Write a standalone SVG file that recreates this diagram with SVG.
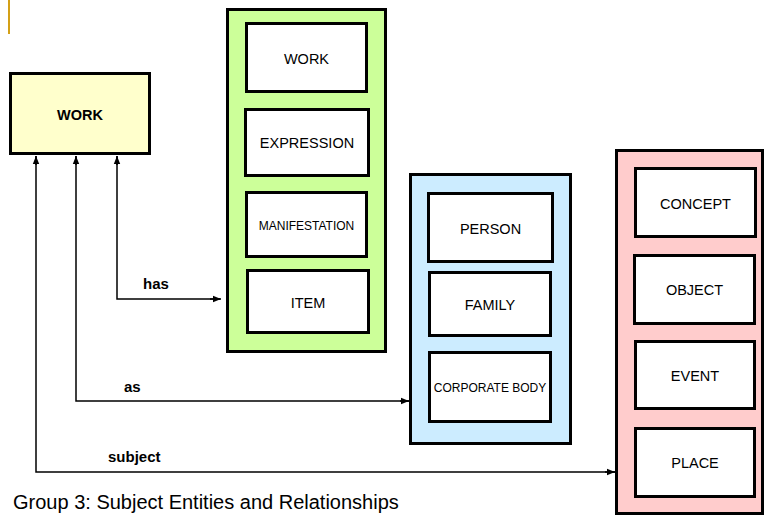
<svg xmlns="http://www.w3.org/2000/svg" width="764" height="515" viewBox="0 0 764 515">
<defs>
<marker id="ah" viewBox="0 0 10 10" refX="10" refY="5" markerWidth="8" markerHeight="8" markerUnits="userSpaceOnUse" orient="auto">
<path d="M0,1 L10,5 L0,9 z" fill="#000"/>
</marker>
<style>
.box{fill:#fff;stroke:#000;stroke-width:3}
.cont{stroke:#000;stroke-width:3}
.lbl{font-family:"Liberation Sans",Arial,sans-serif;font-size:14.5px;text-anchor:middle;fill:#000}
.sm{font-size:12px}
.rel{font-family:"Liberation Sans",Arial,sans-serif;font-size:15px;font-weight:bold;fill:#000}
.conn{fill:none;stroke:#000;stroke-width:1.5;marker-end:url(#ah)}
</style>
</defs>
<rect width="764" height="515" fill="#fff"/>
<line x1="9" y1="0" x2="9" y2="34" stroke="#D4A017" stroke-width="2"/>

<g id="work-main">
<rect x="10.5" y="73.5" width="139" height="80" fill="#FFFFCC" class="cont"/>
<text x="80" y="120" class="lbl" font-weight="bold" font-size="14">WORK</text>
</g>

<g id="group1">
<rect x="227.5" y="9.5" width="158" height="342" fill="#CCFF99" class="cont"/>
<g id="g1-work"><rect x="246.5" y="23.5" width="120" height="68" class="box"/><text x="306.5" y="64" class="lbl">WORK</text></g>
<g id="g1-expression"><rect x="245.5" y="109.5" width="123" height="66" class="box"/><text x="307" y="148" class="lbl">EXPRESSION</text></g>
<g id="g1-manifestation"><rect x="246.5" y="192.5" width="120" height="64" class="box"/><text x="306.5" y="230" class="lbl sm">MANIFESTATION</text></g>
<g id="g1-item"><rect x="247.5" y="270.5" width="121" height="62" class="box"/><text x="308" y="308" class="lbl">ITEM</text></g>
</g>

<g id="group2">
<rect x="410.5" y="174.5" width="160" height="269" fill="#CCECFF" class="cont"/>
<g id="g2-person"><rect x="428.5" y="193.5" width="124" height="68" class="box"/><text x="490.5" y="234" class="lbl">PERSON</text></g>
<g id="g2-family"><rect x="429.5" y="272.5" width="121" height="63" class="box"/><text x="490" y="310" class="lbl">FAMILY</text></g>
<g id="g2-corporate"><rect x="429.5" y="352.5" width="121" height="69" class="box"/><text x="490" y="392" class="lbl sm">CORPORATE BODY</text></g>
</g>

<g id="group3">
<rect x="616.5" y="150.5" width="146" height="363" fill="#FFCCCC" class="cont"/>
<g id="g3-concept"><rect x="635.5" y="168.5" width="120" height="68" class="box"/><text x="695.5" y="209" class="lbl">CONCEPT</text></g>
<g id="g3-object"><rect x="634.5" y="255.5" width="120" height="68" class="box"/><text x="694.5" y="295" class="lbl">OBJECT</text></g>
<g id="g3-event"><rect x="635.5" y="341.5" width="119" height="67" class="box"/><text x="695" y="381" class="lbl">EVENT</text></g>
<g id="g3-place"><rect x="635.5" y="428.5" width="119" height="68" class="box"/><text x="695" y="468" class="lbl">PLACE</text></g>
</g>

<g id="connectors">
<polyline class="conn" points="220,299 117,299 117,156" style="marker-end:none"/>
<line x1="117" y1="165" x2="117" y2="156" class="conn"/>
<line x1="210" y1="299" x2="221" y2="299" class="conn"/>
<polyline class="conn" points="409,401 76,401 76,156" style="marker-end:none"/>
<line x1="76" y1="165" x2="76" y2="156" class="conn"/>
<line x1="400" y1="401" x2="409" y2="401" class="conn"/>
<polyline class="conn" points="615,472 36,472 36,156" style="marker-end:none"/>
<line x1="36" y1="165" x2="36" y2="156" class="conn"/>
<line x1="605" y1="472" x2="615" y2="472" class="conn"/>
<text x="143" y="289" class="rel">has</text>
<text x="124" y="392" class="rel">as</text>
<text x="108" y="462" class="rel">subject</text>
</g>

<text x="13" y="509" font-family="Liberation Sans,Arial,sans-serif" font-size="20" fill="#000">Group 3: Subject Entities and Relationships</text>
</svg>
